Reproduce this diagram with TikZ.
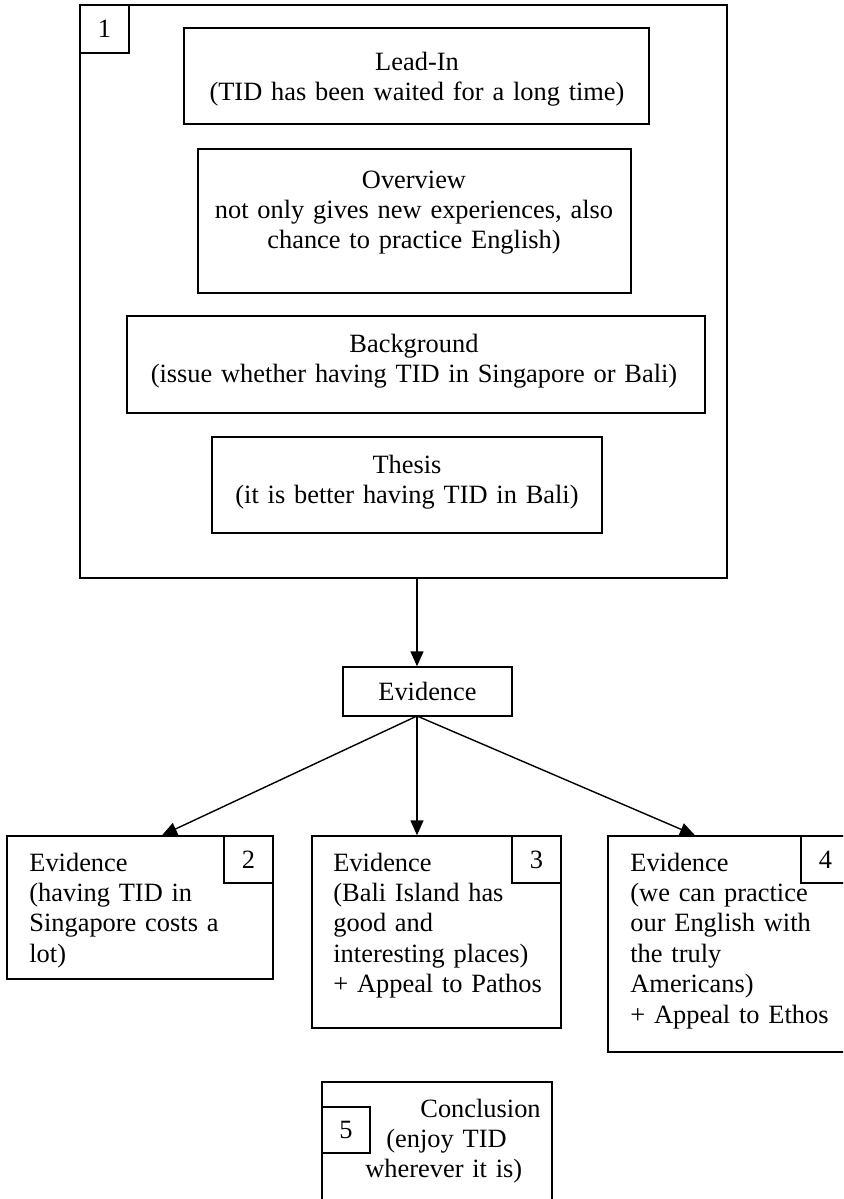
\documentclass[tikz,border=0pt]{standalone}
\usepackage{fontspec}
\setmainfont[WordSpace=0.75]{Liberation Serif}
\usetikzlibrary{fit,arrows.meta}
\begin{document}
\begin{tikzpicture}[x=0.5pt,y=-0.5pt,
  box/.style={draw, line width=0.7pt, inner sep=0pt},
  bodyfont/.style={font=\fontsize{13.2}{15.2}\selectfont},
  txt/.style={bodyfont, inner sep=0pt},
  ctxt/.style={txt, text width=300pt, align=center, anchor=base},
  ltxt/.style={txt, text width=150pt, align=left, anchor=base west},
  arr/.style={line width=0.7pt, -{Triangle[length=7.5pt,width=6.5pt]}}]

\useasboundingbox (0,0) rectangle (843,1199);
\clip (0,0) rectangle (843,1199);

% introduction block
\node[box, fit={(80,5) (727,578)}] (intro) {};
\node[box, fit={(80,5) (129,53)}] (n1) {};
\node[txt] (n1T) at (n1.center) {1};

\node[box, fit={(184,28) (649,124)}] (lead) {};
\node[ctxt] (leadT) at (417,70) {Lead-In\\(TID has been waited for a long time)};

\node[box, fit={(198,149) (631,293)}] (over) {};
\node[ctxt] (overT) at (414,188) {Overview\\not only gives new experiences, also\\chance to practice English)};

\node[box, fit={(127,316) (705,413)}] (back) {};
\node[ctxt] (backT) at (414,352) {Background\\(issue whether having TID in Singapore or Bali)};

\node[box, fit={(212,437) (602,533)}] (thes) {};
\node[ctxt] (thesT) at (407,473) {Thesis\\(it is better having TID in Bali)};

% evidence hub
\node[box, fit={(343,667) (512,716)}] (evid) {};
\node[txt] (evidT) at (evid.center) {Evidence};

% three evidence boxes
\node[box, fit={(7,836) (273,979)}] (ev2) {};
\node[box, fit={(224,836) (273,883)}] (n2) {};
\node[txt] (n2T) at (n2.center) {2};
\node[ltxt] (ev2T) at (29,871) {Evidence\\(having TID in\\Singapore costs a\\lot)};

\node[box, fit={(312,836) (561,1028)}] (ev3) {};
\node[box, fit={(512,836) (561,883)}] (n3) {};
\node[txt] (n3T) at (n3.center) {3};
\node[ltxt] (ev3T) at (333,871) {Evidence\\(Bali Island has\\good and\\interesting places)\\+ Appeal to Pathos};

\node[box, fit={(608,836) (850,1052)}] (ev4) {};
\node[box, fit={(801,836) (850,883)}] (n4) {};
\node[txt] (n4T) at (n4.center) {4};
\node[ltxt] (ev4T) at (630,871) {Evidence\\(we can practice\\our English with\\the truly\\Americans)\\+ Appeal to Ethos};

% conclusion
\node[box, fit={(322,1082) (552,1215)}] (concl) {};
\node[box, fit={(322,1107) (370,1153)}] (n5) {};
\node[txt] (n5T) at (n5.center) {5};
\node[ltxt] (conclT) at (365,1117) {\hspace*{27.5pt}Conclusion\\\hspace*{10.5pt}(enjoy TID\\wherever it is)};

% connectors
\coordinate (fan) at (417,716);
\coordinate (t2) at (162,836);
\coordinate (t4) at (695,836);
\draw[arr] (fan |- intro.south) -- (fan |- evid.north);
\draw[arr] (fan) -- (t2 |- ev2.north);
\draw[arr] (fan) -- (fan |- ev3.north);
\draw[arr] (fan) -- (t4 |- ev4.north);
\end{tikzpicture}
\end{document}
